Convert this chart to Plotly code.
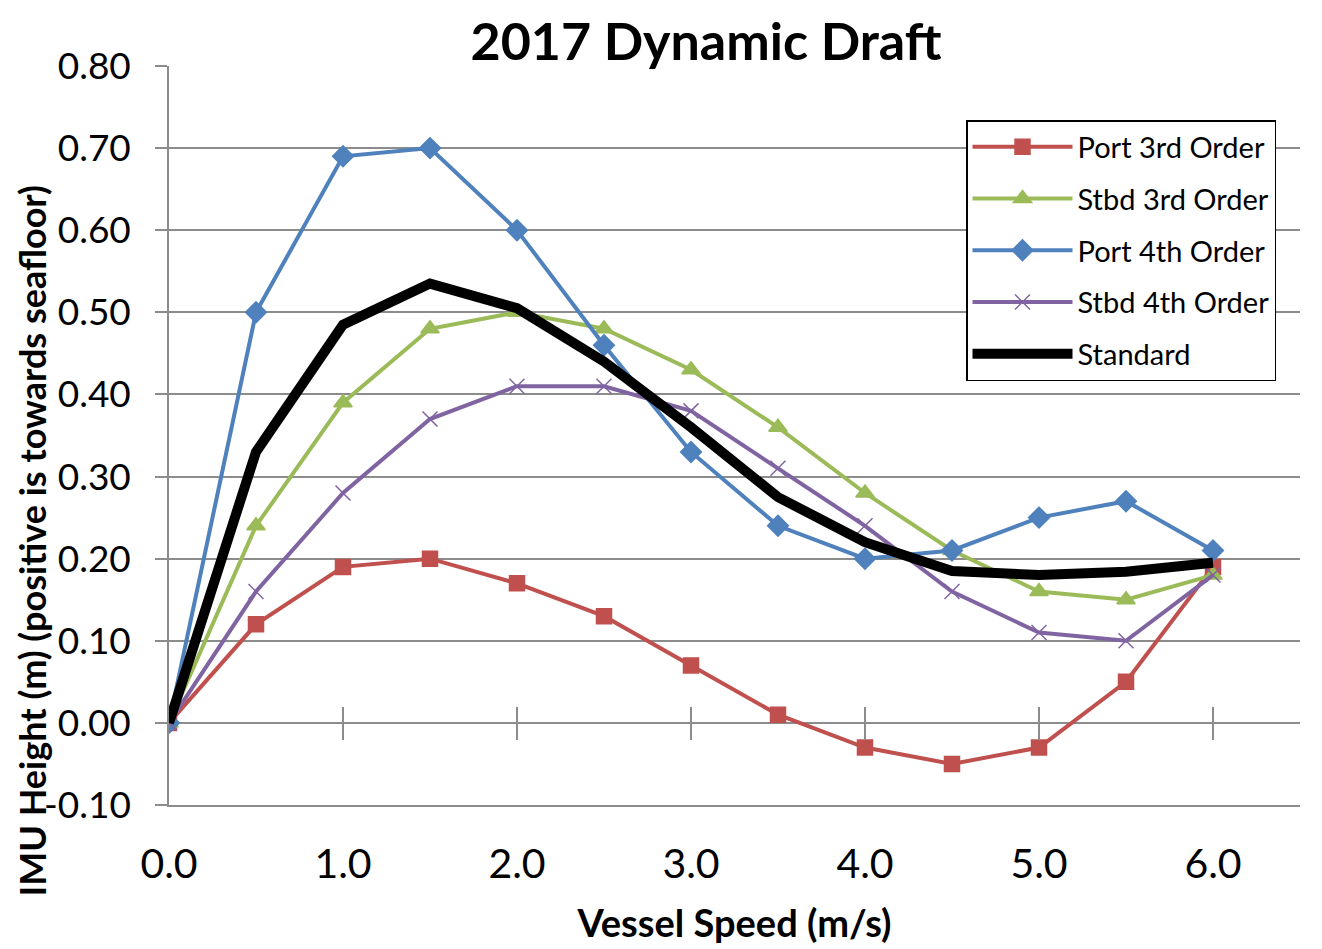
import plotly.graph_objects as go

speed = [0.0, 0.5, 1.0, 1.5, 2.0, 2.5, 3.0, 3.5, 4.0, 4.5, 5.0, 5.5, 6.0]
port_3rd = [0.00, 0.12, 0.19, 0.20, 0.17, 0.13, 0.07, 0.01, -0.03, -0.05, -0.03, 0.05, 0.19]
stbd_3rd = [0.00, 0.24, 0.39, 0.48, 0.50, 0.48, 0.43, 0.36, 0.28, 0.21, 0.16, 0.15, 0.18]
port_4th = [0.00, 0.50, 0.69, 0.70, 0.60, 0.46, 0.33, 0.24, 0.20, 0.21, 0.25, 0.27, 0.21]
stbd_4th = [0.00, 0.16, 0.28, 0.37, 0.41, 0.41, 0.38, 0.31, 0.24, 0.16, 0.11, 0.10, 0.18]
standard = [0.00, 0.33, 0.485, 0.535, 0.505, 0.44, 0.36, 0.275, 0.22, 0.185, 0.18, 0.184, 0.195]

x_ticks = [0, 1, 2, 3, 4, 5, 6]
y_ticks = [-0.1, 0.0, 0.1, 0.2, 0.3, 0.4, 0.5, 0.6, 0.7, 0.8]

FONT = "Lato"
GRID = "#8c8c8c"

series = [
    ("Port 3rd Order", port_3rd, "#C0504D", "square", 15, 4),
    ("Stbd 3rd Order", stbd_3rd, "#9BBB59", "triangle-up", 16, 4),
    ("Port 4th Order", port_4th, "#4F81BD", "diamond", 16, 4),
    ("Stbd 4th Order", stbd_4th, "#8064A2", "x-thin", 15, 4),
]

fig = go.Figure()
for i, (name, vals, col, sym, sz, lw) in enumerate(series):
    fig.add_trace(go.Scatter(
        x=speed, y=vals, name=name, mode="lines+markers",
        line=dict(color=col, width=lw),
        marker=dict(symbol=sym, size=sz, color=col,
                    line=dict(color=col, width=1.5)),
        legendgroup=f"g{i}",
    ))
fig.add_trace(go.Scatter(
    x=speed, y=standard, name="Standard", mode="lines",
    line=dict(color="black", width=10),
    legendgroup="g5",
))
# helper traces to carry the tick-only axes at y = 0
for ax in ["x2", "x3"]:
    fig.add_trace(go.Scatter(x=[0], y=[0], xaxis=ax, yaxis="y", mode="markers",
                             marker=dict(opacity=0), showlegend=False, hoverinfo="skip"))

y0_pos = (0 - y_ticks[0]) / (y_ticks[-1] - y_ticks[0])

fig.update_layout(
    width=1322, height=949,
    paper_bgcolor="white", plot_bgcolor="white",
    margin=dict(l=161, r=30, t=58, b=152, autoexpand=False),
    font=dict(family=FONT, color="black"),
    title=dict(text="<b>2017 Dynamic Draft</b>", x=0.528, xanchor="center",
               y=1 - 33.5 / 949, yanchor="middle", font=dict(size=52, family=FONT)),
    xaxis=dict(range=[0, 6.5], tickvals=x_ticks, ticktext=[f"{v:.1f}" for v in x_ticks],
               showgrid=False, zeroline=False, showline=True, linecolor=GRID, linewidth=1.5,
               ticks="", tickfont=dict(size=41, family=FONT), ticklabelstandoff=22,
               automargin=False,
               title=dict(text="<b>Vessel Speed (m/s)</b>", font=dict(size=38, family=FONT), standoff=24)),
    xaxis2=dict(range=[0, 6.5], overlaying="x", anchor="free", position=y0_pos,
                tickvals=x_ticks[1:], showticklabels=False, ticks="outside", ticklen=16,
                tickcolor=GRID, tickwidth=1.5, showgrid=False, zeroline=False, showline=False,
                automargin=False),
    xaxis3=dict(range=[0, 6.5], overlaying="x", anchor="free", position=y0_pos,
                tickvals=x_ticks[1:], showticklabels=False, ticks="inside", ticklen=16,
                tickcolor=GRID, tickwidth=1.5, showgrid=False, zeroline=False, showline=False,
                automargin=False),
    yaxis=dict(range=[-0.1, 0.8], tickvals=y_ticks, ticktext=[f"{v:.2f}" for v in y_ticks],
               showgrid=True, gridcolor=GRID, gridwidth=1.5, zeroline=False,
               showline=True, linecolor=GRID, linewidth=1.5,
               ticks="outside", ticklen=12, tickcolor=GRID, tickwidth=1.5,
               tickfont=dict(size=37, family=FONT), ticklabelstandoff=17, automargin=False),
    annotations=[dict(
        text="<b>IMU Height (m) (positive is towards seafloor)</b>",
        textangle=-90, xref="paper", yref="paper",
        x=(0.5 - 161) / 1131, y=(797 - 533) / 739, xanchor="left", yanchor="middle",
        showarrow=False, borderpad=0, font=dict(size=36, family=FONT, color="black"),
    )],
    legend=dict(x=(966 - 169) / 1131, y=(805 - 120) / 739, xanchor="left", yanchor="top",
                bgcolor="white", bordercolor="black", borderwidth=1.5,
                font=dict(size=29, family=FONT), tracegroupgap=11,
                traceorder="grouped", itemwidth=100),
    showlegend=True,
)

fig.write_html("out.html")
